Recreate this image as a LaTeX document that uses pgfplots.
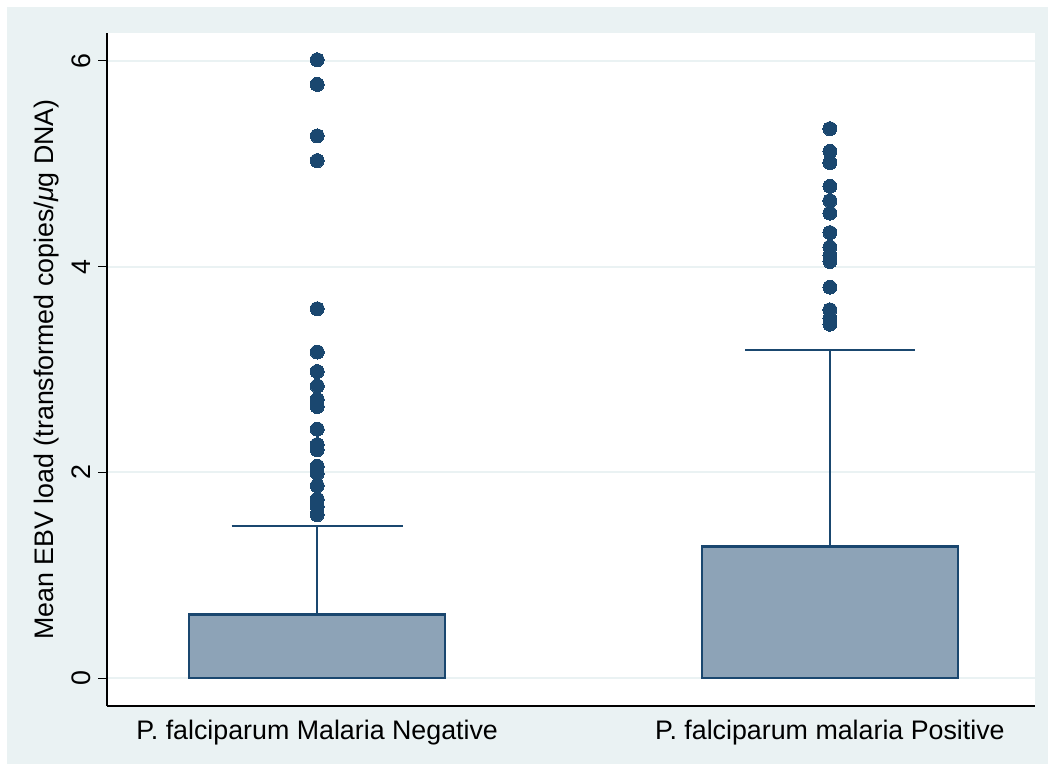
\documentclass[border=0pt]{standalone}
\usepackage{fontspec}
\setmainfont{Liberation Sans}
\usepackage{pgfplots}
\pgfplotsset{compat=1.18}
\usepgfplotslibrary{statistics}
\definecolor{stnavy}{HTML}{1A476F}
\definecolor{stbox}{HTML}{8DA3B7}
\definecolor{stbg}{HTML}{EAF2F3}
\begin{document}
\begin{tikzpicture}[x=1pt,y=1pt,font=\fontsize{13.4}{15.5}\selectfont]
\fill[white] (0,0) rectangle (527.5,385.5);
\fill[stbg] (3.5,3.5) rectangle (524,382);
\begin{axis}[
  at={(53.5pt,32.5pt)}, anchor=south west,
  scale only axis, width=464pt, height=336.5pt,
  xmin=0.59, xmax=2.40, ymin=-0.27, ymax=6.27,
  axis background/.style={fill=white},
  axis lines*=left,
  axis line style={black, line width=0.6pt},
  xtick={1,2},
  xticklabels={P. falciparum Malaria Negative, P. falciparum malaria Positive},
  xtick style={draw=none},
  xticklabel style={anchor=north, yshift=1pt},
  ytick={0,2,4,6},
  ymajorgrids,
  grid style={stbg, line width=1pt},
  tick align=outside,
  major tick length=4.5pt,
  ytick style={black, line width=0.6pt},
  yticklabel style={rotate=90, anchor=south},
  /pgf/number format/assume math mode=true,
  ylabel={Mean EBV load (transformed copies/\textit{μ}g DNA)},
  every axis y label/.style={at={(axis description cs:-0.0655,0.5)}, rotate=90, anchor=center},
  boxplot/draw direction=y,
  boxplot/every whisker/.style={line width=0.8pt},
  boxplot/every box/.style={line width=1.1pt, fill=stbox, draw=stnavy},
  boxplot/every median/.style={line width=1.1pt, draw=stnavy},
]
\addplot[
  boxplot prepared={median=0, lower quartile=0, upper quartile=0.62,
    lower whisker=0, upper whisker=1.48, draw position=1,
    box extend=0.5, whisker extend=0.334},
  draw=stnavy, mark=*, mark size=3.5pt,
  mark options={fill=stnavy, draw=stnavy, line width=0pt}]
table[row sep=\\, y index=0] {
data\\ 6.01\\ 5.77\\ 5.27\\ 5.03\\ 3.59\\ 3.17\\ 2.98\\ 2.84\\ 2.71\\ 2.64\\
2.42\\ 2.27\\ 2.22\\ 2.06\\ 1.99\\ 1.87\\ 1.74\\ 1.67\\ 1.59\\
};
\addplot[
  boxplot prepared={median=0, lower quartile=0, upper quartile=1.28,
    lower whisker=0, upper whisker=3.19, draw position=2,
    box extend=0.5, whisker extend=0.33},
  draw=stnavy, mark=*, mark size=3.5pt,
  mark options={fill=stnavy, draw=stnavy, line width=0pt}]
table[row sep=\\, y index=0] {
data\\ 5.34\\ 5.12\\ 5.01\\ 4.78\\ 4.64\\ 4.52\\ 4.33\\ 4.19\\ 4.11\\ 4.05\\
3.80\\ 3.58\\ 3.50\\ 3.44\\
};
\end{axis}
\end{tikzpicture}
\end{document}
